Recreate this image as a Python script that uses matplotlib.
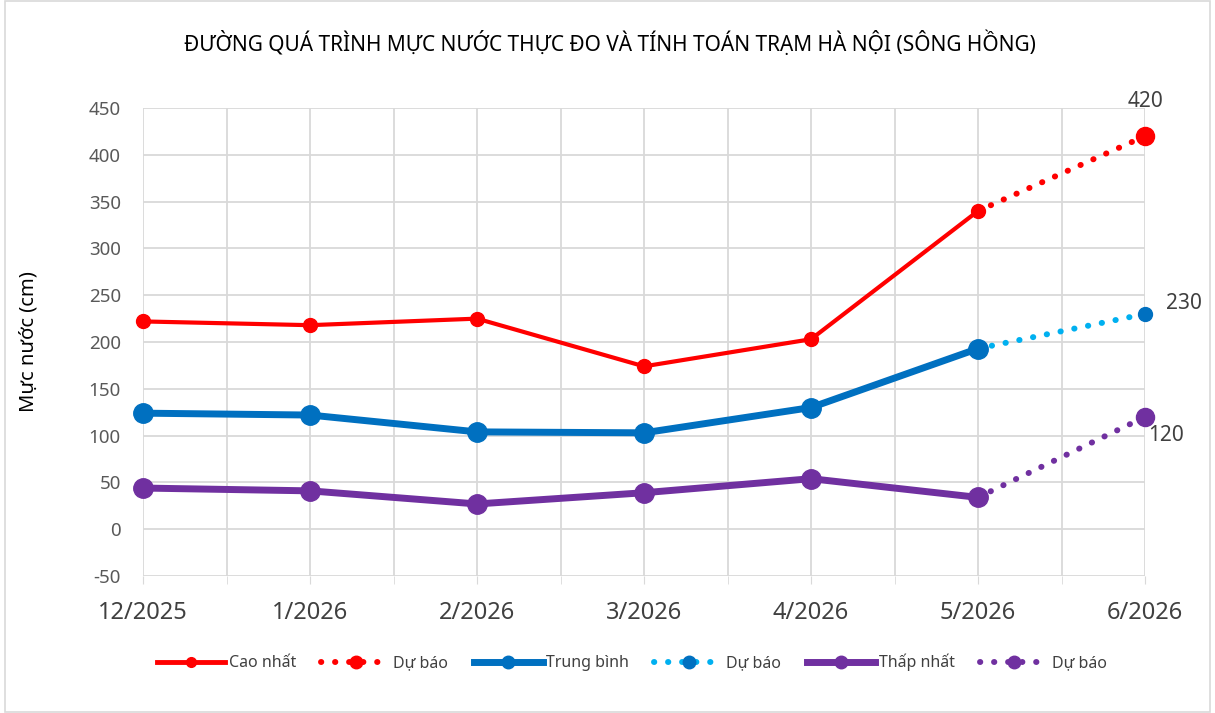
import numpy as np
import matplotlib.pyplot as plt
from matplotlib.patches import Rectangle
from matplotlib.lines import Line2D

plt.rcParams['font.family'] = ['Noto Sans', 'DejaVu Sans']
plt.rcParams['axes.unicode_minus'] = False

months = ['12/2025', '1/2026', '2/2026', '3/2026', '4/2026', '5/2026', '6/2026']
cao_nhat = [222, 218, 225, 174, 203, 340]
trung_binh = [124, 122, 104, 103, 130, 193]
thap_nhat = [44, 41, 27, 39, 54, 34]
du_bao_cao = [340, 420]
du_bao_tb = [193, 230]
du_bao_thap = [34, 120]

red = '#FF0000'
blue = '#0070C0'
lightblue = '#00B0F0'
purple = '#7030A0'

fig = plt.figure(figsize=(12.15, 7.13), dpi=100)
ax = fig.add_axes([0.1177, 0.1921, 0.8247, 0.6564])

x = np.arange(len(months))
xo = x[:len(cao_nhat)]
xf = x[len(cao_nhat) - 1:]

dot = (0, (0.05, 2.3))

ax.plot(xo, cao_nhat, color=red, lw=3, marker='o', ms=10, zorder=5, clip_on=False)
ax.plot(xf, du_bao_cao, color=red, lw=4.3, ls=dot, dash_capstyle='round',
        marker='o', ms=13, markevery=[1], zorder=4, clip_on=False)
ax.plot(xo, trung_binh, color=blue, lw=5, marker='o', ms=14, zorder=5, clip_on=False)
ax.plot(xf, du_bao_tb, color=lightblue, lw=4.3, ls=dot, dash_capstyle='round',
        marker='o', ms=10, markevery=[1], mfc=blue, mec=blue, zorder=4, clip_on=False)
ax.plot(xo, thap_nhat, color=purple, lw=5, marker='o', ms=14, zorder=5, clip_on=False)
ax.plot(xf, du_bao_thap, color=purple, lw=4.3, ls=dot, dash_capstyle='round',
        marker='o', ms=13, markevery=[1], zorder=4, clip_on=False)

lab_kw = dict(fontsize=15, color='#404040')
ax.annotate(str(du_bao_cao[-1]), (xf[-1], du_bao_cao[-1]), xytext=(0, 17),
            textcoords='offset points', ha='center', va='bottom', **lab_kw)
ax.annotate(str(du_bao_tb[-1]), (xf[-1], du_bao_tb[-1]), xytext=(15, 0),
            textcoords='offset points', ha='left', va='bottom', **lab_kw)
ax.annotate(str(du_bao_thap[-1]), (xf[-1], du_bao_thap[-1]), xytext=(2, -6),
            textcoords='offset points', ha='left', va='top', **lab_kw)

ax.set_xlim(0, 6)
ax.set_ylim(-50, 450)
ax.set_yticks(np.arange(-50, 451, 50))
ax.set_xticks(x)
ax.set_xticklabels(months)
ax.set_xticks(np.arange(0.5, 6, 1), minor=True)
ax.tick_params(axis='x', which='both', length=6, color='#D9D9D9', labelsize=17,
               labelcolor='#404040', pad=12)
ax.tick_params(axis='y', length=0, labelsize=13.5, labelcolor='#595959', pad=16)
ax.grid(True, which='both', color='#D9D9D9', lw=1.3)
ax.set_axisbelow(True)
for s in ax.spines.values():
    s.set_visible(False)

ax.set_ylabel('Mực nước (cm)', fontsize=14.5, color='black', labelpad=36)

fig.text(0.502, 0.94, 'ĐƯỜNG QUÁ TRÌNH MỰC NƯỚC THỰC ĐO VÀ TÍNH TOÁN TRẠM HÀ NỘI (SÔNG HỒNG)',
         ha='center', va='center', fontsize=15, color='black')

handles = [
    Line2D([], [], color=red, lw=3.5, marker='o', ms=7),
    Line2D([], [], color=red, lw=4.3, ls=dot, marker='o', ms=9, dash_capstyle='round'),
    Line2D([], [], color=blue, lw=5, marker='o', ms=9),
    Line2D([], [], color=lightblue, lw=4.3, ls=dot, marker='o', ms=9, mfc=blue, mec=blue,
           dash_capstyle='round'),
    Line2D([], [], color=purple, lw=5, marker='o', ms=9),
    Line2D([], [], color=purple, lw=4.3, ls=dot, marker='o', ms=9, dash_capstyle='round'),
]
labels = ['Cao nhất', 'Dự báo', 'Trung bình', 'Dự báo', 'Thấp nhất', 'Dự báo']
fig.legend(handles, labels, loc='center', bbox_to_anchor=(0.52, 0.071), ncol=6,
           frameon=False, fontsize=11.5, handlelength=4.3, handletextpad=0.2,
           columnspacing=1.6, labelcolor='#404040')

fig.add_artist(Rectangle((0.004, 0.002), 0.992, 0.996, transform=fig.transFigure,
                         fill=False, ec='#D9D9D9', lw=1.2))

fig.savefig('out.png', dpi=100)
